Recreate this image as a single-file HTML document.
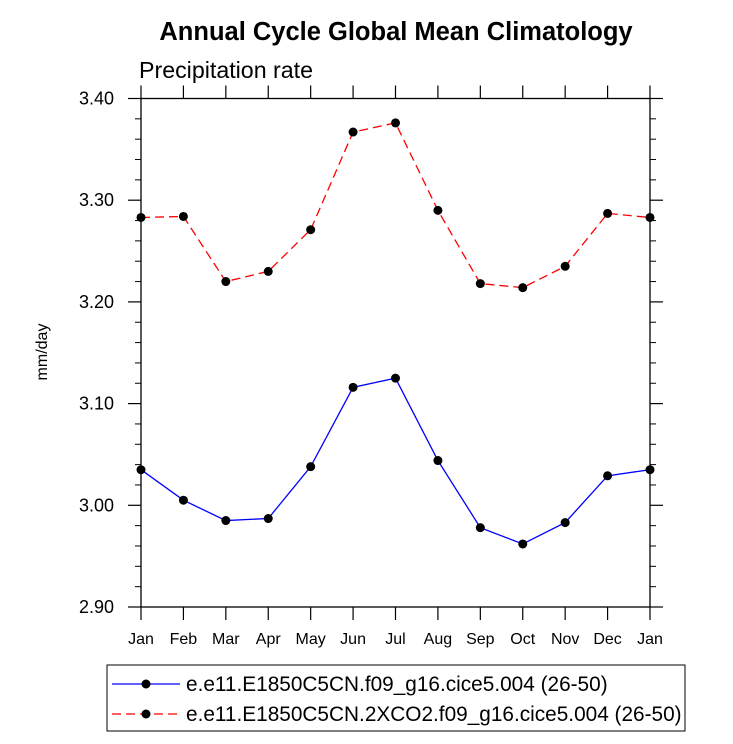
<!DOCTYPE html>
<html><head><meta charset="utf-8"><style>
body{margin:0;background:#fff;}
svg text{font-family:"Liberation Sans",sans-serif;}
</style></head><body>
<svg id="c" width="733" height="739" xmlns="http://www.w3.org/2000/svg">
<text x="396" y="40" text-anchor="middle" font-size="25.5" font-weight="bold">Annual Cycle Global Mean Climatology</text>
<text x="139" y="78" font-size="23.2">Precipitation rate</text>
<text transform="translate(47,352) rotate(-90)" text-anchor="middle" font-size="16">mm/day</text>
<g id="axes"></g>
<g id="series"></g>
<g>
<rect x="107" y="665" width="578" height="66" fill="#fff" stroke="#000" stroke-width="1"/>
<line x1="112" y1="684" x2="180" y2="684" stroke="#0000ff" stroke-width="1.3"/>
<circle cx="146" cy="684" r="4.5" fill="#000"/>
<text x="186" y="691" font-size="20.8">e.e11.E1850C5CN.f09_g16.cice5.004 (26-50)</text>
<line x1="112" y1="714" x2="180" y2="714" stroke="#ff0000" stroke-width="1.3" stroke-dasharray="9,5"/>
<circle cx="146" cy="714" r="4.5" fill="#000"/>
<text x="186" y="721" font-size="20.8">e.e11.E1850C5CN.2XCO2.f09_g16.cice5.004 (26-50)</text>
</g>
</svg>
<script>
const months = ["Jan","Feb","Mar","Apr","May","Jun","Jul","Aug","Sep","Oct","Nov","Dec","Jan"];
const controlValues = [3.035,3.005,2.985,2.987,3.038,3.116,3.125,3.044,2.978,2.962,2.983,3.029,3.035];
const co2Values = [3.283,3.284,3.220,3.230,3.271,3.367,3.376,3.290,3.218,3.214,3.235,3.287,3.283];
const yTicks = [2.90,3.00,3.10,3.20,3.30,3.40];
const yTickLabels = ["2.90","3.00","3.10","3.20","3.30","3.40"];
const L=141,R=650,T=98.5,B=607,yMin=2.9,yMax=3.4;
const NS="http://www.w3.org/2000/svg";
const xs=i=>L+(R-L)*i/(months.length-1);
const ys=v=>B-(B-T)*(v-yMin)/(yMax-yMin);
const ax=document.getElementById('axes'), se=document.getElementById('series');
function mk(p,tag,at){const e=document.createElementNS(NS,tag);for(const k in at)e.setAttribute(k,at[k]);p.appendChild(e);return e;}
const frame=mk(ax,'rect',{x:L,y:T,width:R-L,height:B-T,fill:'none',stroke:'#000','stroke-width':1.3});


months.forEach((m,i)=>{const x=xs(i);
mk(ax,'line',{x1:x,y1:B,x2:x,y2:B+13,stroke:'#000','stroke-width':1.2});
mk(ax,'line',{x1:x,y1:T,x2:x,y2:T-13,stroke:'#000','stroke-width':1.2});
const t=mk(ax,'text',{x:x,y:B+37,'text-anchor':'middle','font-size':16});t.textContent=m;

});
yTicks.forEach((v,i)=>{const y=ys(v);
mk(ax,'line',{x1:L,y1:y,x2:L-13,y2:y,stroke:'#000','stroke-width':1.2});
mk(ax,'line',{x1:R,y1:y,x2:R+13,y2:y,stroke:'#000','stroke-width':1.2});
const t=mk(ax,'text',{x:L-27,y:y+6,'text-anchor':'end','font-size':18});t.textContent=yTickLabels[i];


if(i<yTicks.length-1)for(let k=1;k<5;k++){const yy=ys(v+0.02*k);
mk(ax,'line',{x1:L,y1:yy,x2:L-6,y2:yy,stroke:'#000','stroke-width':1});
mk(ax,'line',{x1:R,y1:yy,x2:R+6,y2:yy,stroke:'#000','stroke-width':1});}});
function draw(vals,color,dash,name){
const pl=mk(se,'polyline',{points:vals.map((v,i)=>xs(i)+','+ys(v)).join(' '),fill:'none',stroke:color,'stroke-width':1.3,'stroke-dasharray':dash});


vals.forEach((v,i)=>{const c=mk(se,'circle',{cx:xs(i),cy:ys(v),r:4.5,fill:'#000'});

});}
draw(controlValues,'#0000ff','none','control');
draw(co2Values,'#ff0000','9,5','co2');
</script>
</body></html>
